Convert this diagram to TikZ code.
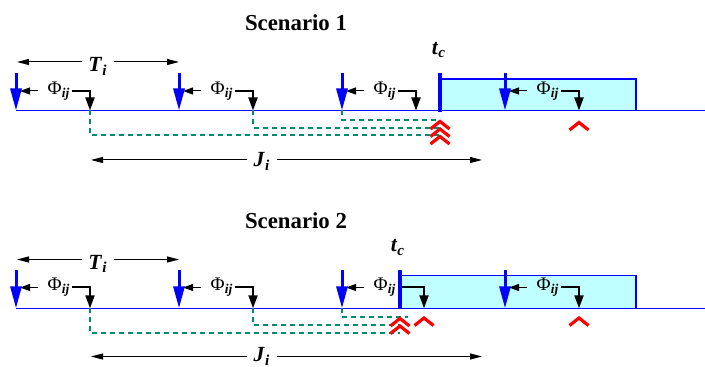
\documentclass[tikz,border=0pt]{standalone}
\usepackage{fontspec}
\setmainfont{Liberation Serif}
\usetikzlibrary{arrows.meta,calc}
\definecolor{relblue}{RGB}{0,0,255}
\definecolor{busycyan}{RGB}{192,255,255}
\definecolor{waitgreen}{RGB}{0,140,110}
\definecolor{hitred}{RGB}{255,0,0}
\newcommand{\bi}[1]{\textbf{\textit{#1}}}
\newcommand{\lbl}[2]{\bi{#1}\textsubscript{\bi{#2}}}
\newcommand{\chev}[1]{\draw[hit] ($(#1)+(-9.5,7.5)$) -- (#1) -- ($(#1)+(9.5,7.5)$);}

\begin{document}
\begin{tikzpicture}[x=0.5pt,y=-0.5pt,
  axis/.style={relblue,line width=0.6pt},
  release/.style={relblue,line width=1.5pt,-{Triangle[length=11pt,width=5.5pt]}},
  crit/.style={relblue,line width=1.7pt},
  busy/.style={draw=relblue,fill=busycyan,line width=0.6pt},
  lag/.style={waitgreen,line width=1pt,dash pattern=on 2.5pt off 2pt},
  dline/.style={line width=1pt,-{Triangle[length=6.5pt,width=4.5pt]}},
  back/.style={line width=0.5pt,-{Triangle[length=5pt,width=3.5pt]}},
  span/.style={line width=0.5pt,-{Triangle[length=6pt,width=3pt]}},
  hit/.style={hitred,line width=1.6pt},
  ttl/.style={font=\fontsize{11.4}{13}\selectfont\bfseries,inner sep=0pt},
  sym/.style={font=\fontsize{10.8}{12}\selectfont,inner xsep=3pt,inner ysep=0pt},
  phi/.style={font=\fontsize{9.6}{10}\selectfont,inner xsep=0.5pt,inner ysep=0pt}]

\useasboundingbox (0,0) rectangle (705,367);

% ---------- Scenario 1 ----------
\begin{scope}
  \node[ttl,anchor=base] (title1) at (296,30.7) {Scenario 1};
  \draw[busy] (440,79) rectangle (636,110.5);
  \draw[axis] (16,110.5) -- (705,110.5);
  \foreach \r/\d/\n in {16/90/a,179/253/b,342/416/c,505/579/d} {
    \coordinate (r1\n) at (\r,73);
    \coordinate (o1\n) at (\r,110.5);
    \coordinate (d1\n) at (\d,110.5);
    \coordinate (k1\n) at (\r+4,91);
    \node[phi,anchor=base] (p1\n) at (\r+43,94.5) {Φ\textsubscript{\bi{ij}}};
    \draw[back] ([xshift=-4pt]p1\n.west |- k1\n) -- (k1\n);
    \draw[dline] (p1\n.east |- k1\n) -| (d1\n);
    \draw[release] (r1\n) -- (o1\n);
  }
  % period and jitter
  \node[sym,anchor=base] (T1) at (98,72) {\lbl{T}{i}};
  \draw[span] (T1.west |- 0,62) -- (17,62);
  \draw[span] (T1.east |- 0,62) -- (179,62);
  \node[sym,anchor=base] (J1) at (262,167) {\lbl{J}{i}};
  \draw[span] (J1.west |- 0,160) -- (91,160);
  \draw[span] (J1.east |- 0,160) -- (482,160);
  % delayed releases
  \draw[lag] (d1a) |- (440,135.5);
  \draw[lag] (d1b) |- (440,128);
  \draw[lag] (o1c) |- (440,120.5);
  % critical instant
  \coordinate (c1) at (440,73);
  \node[sym,anchor=base] (tc1) at (439,54.5) {\lbl{t}{c}};
  \draw[crit] (c1) -- (440,112);
  \chev{440,121.5} \chev{440,129} \chev{440,136.5} \chev{579,122.5}
\end{scope}

% ---------- Scenario 2 ----------
\begin{scope}[shift={(0,197.5)}]
  \node[ttl,anchor=base] (title2) at (296,31.5) {Scenario 2};
  \draw[busy] (400,78) rectangle (636,110.8);
  \draw[axis] (16,110.8) -- (705,110.8);
  \foreach \r/\d/\n in {16/90/a,179/253/b,342/424/c,505/579/d} {
    \coordinate (r2\n) at (\r,73);
    \coordinate (o2\n) at (\r,110.8);
    \coordinate (d2\n) at (\d,110.8);
    \coordinate (k2\n) at (\r+4,90);
    \node[phi,anchor=base] (p2\n) at (\r+43,93.5) {Φ\textsubscript{\bi{ij}}};
    \draw[back] ([xshift=-4pt]p2\n.west |- k2\n) -- (k2\n);
    \draw[dline] (p2\n.east |- k2\n) -| (d2\n);
    \draw[release] (r2\n) -- (o2\n);
  }
  % period and jitter
  \node[sym,anchor=base] (T2) at (98,72) {\lbl{T}{i}};
  \draw[span] (T2.west |- 0,62) -- (17,62);
  \draw[span] (T2.east |- 0,62) -- (179,62);
  \node[sym,anchor=base] (J2) at (262,164.5) {\lbl{J}{i}};
  \draw[span] (J2.west |- 0,159) -- (91,159);
  \draw[span] (J2.east |- 0,159) -- (482,159);
  % delayed releases
  \draw[lag] (d2a) |- (400,135.5);
  \draw[lag] (d2b) |- (400,128);
  \draw[lag] (o2c) |- (408,119.5);
  % critical instant
  \coordinate (c2) at (400,73);
  \node[sym,anchor=base] (tc2) at (398,54.5) {\lbl{t}{c}};
  \draw[crit] (c2) -- (400,112);
  \chev{400,121} \chev{400,128.5} \chev{424,120.5} \chev{579,120.5}
\end{scope}
\end{tikzpicture}
\end{document}
